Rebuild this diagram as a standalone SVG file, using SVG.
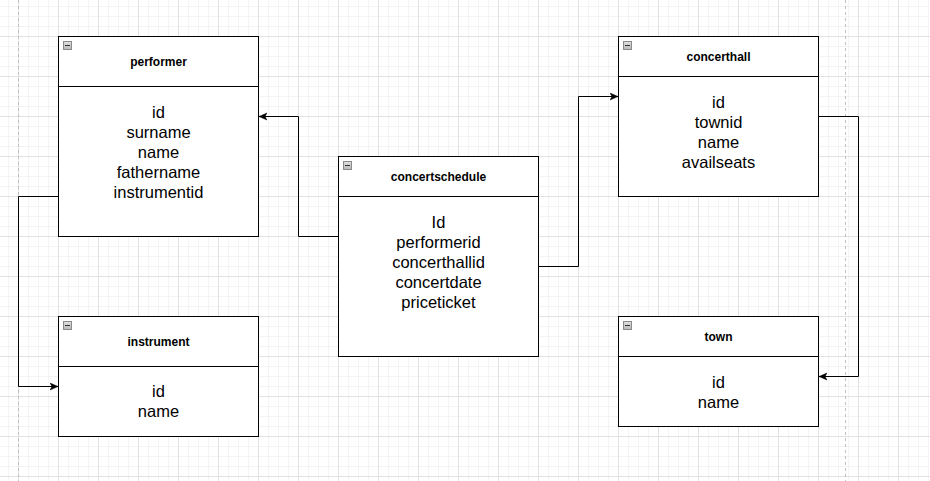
<svg xmlns="http://www.w3.org/2000/svg" width="930" height="481" viewBox="0 0 930 481">
<style>
.box{fill:#ffffff;stroke:#000000;stroke-width:1}
.sep{stroke:#000000;stroke-width:1;fill:none}
.title{font-family:"Liberation Sans",Arial,sans-serif;font-size:12px;font-weight:bold;fill:#000000;text-anchor:middle}
.body{font-family:"Liberation Sans",Arial,sans-serif;font-size:16.5px;fill:#000000;text-anchor:middle}
.conn{fill:none;stroke:#000000;stroke-width:1}
.page{stroke:#c0c0c0;stroke-width:1;stroke-dasharray:3,3;fill:none}
.icon{fill:url(#ig);stroke:#8a8a8a;stroke-width:1}
</style>
<defs>
<pattern id="minor" x="8" y="6" width="10" height="10" patternUnits="userSpaceOnUse">
<path d="M0.5,0 V10 M0,0.5 H10" stroke="#f4f4f4" stroke-width="1" fill="none"/>
</pattern>
<pattern id="major" x="18" y="36" width="40" height="40" patternUnits="userSpaceOnUse">
<path d="M0.5,0 V40 M0,0.5 H40" stroke="#e2e2e2" stroke-width="1" fill="none"/>
</pattern>
<linearGradient id="ig" x1="0" y1="0" x2="0" y2="1">
<stop offset="0" stop-color="#e0e0e0"/>
<stop offset="1" stop-color="#b8b8b8"/>
</linearGradient>
<marker id="arr" viewBox="0 0 10 10" refX="8" refY="4" markerWidth="10" markerHeight="10" markerUnits="userSpaceOnUse" orient="auto">
<path d="M0,0.5 L8,4 L0,7.5 L2,4 Z" fill="#000000" stroke="#000000" stroke-width="0.5"/>
</marker>
<g id="minus">
<rect class="icon" x="0.5" y="0.5" width="8" height="8"/>
<path d="M2,4.5 H7" stroke="#333333" stroke-width="1"/>
</g>
</defs>
<rect width="930" height="481" fill="#ffffff"/>
<rect width="930" height="481" fill="url(#minor)"/>
<rect width="930" height="481" fill="url(#major)"/>
<path class="page" d="M18.5,0 V481 M845.5,0 V481"/>

<g id="connectors">
<path class="conn" d="M338.5,236.5 H298.5 V116.5 H259" marker-end="url(#arr)"/>
<path class="conn" d="M538.5,266.5 H578.5 V96.5 H618" marker-end="url(#arr)"/>
<path class="conn" d="M58.5,196.5 H18.5 V386.5 H58" marker-end="url(#arr)"/>
<path class="conn" d="M818.5,116.5 H858.5 V376.5 H819" marker-end="url(#arr)"/>
</g>

<g id="performer">
<rect class="box" x="58.5" y="36.5" width="200" height="200"/>
<path class="sep" d="M58.5,86.5 H258.5"/>
<use href="#minus" x="63" y="41"/>
<text class="title" x="158.5" y="65.5">performer</text>
<text class="body" x="158.5" y="118">id</text>
<text class="body" x="158.5" y="138">surname</text>
<text class="body" x="158.5" y="158">name</text>
<text class="body" x="158.5" y="178">fathername</text>
<text class="body" x="158.5" y="198">instrumentid</text>
</g>

<g id="instrument">
<rect class="box" x="58.5" y="316.5" width="200" height="120"/>
<path class="sep" d="M58.5,366.5 H258.5"/>
<use href="#minus" x="63" y="321"/>
<text class="title" x="158.5" y="345.5">instrument</text>
<text class="body" x="158.5" y="397">id</text>
<text class="body" x="158.5" y="417">name</text>
</g>

<g id="concertschedule">
<rect class="box" x="338.5" y="156.5" width="200" height="200"/>
<path class="sep" d="M338.5,196.5 H538.5"/>
<use href="#minus" x="343" y="161"/>
<text class="title" x="438.5" y="180.5">concertschedule</text>
<text class="body" x="438.5" y="228">Id</text>
<text class="body" x="438.5" y="248">performerid</text>
<text class="body" x="438.5" y="268">concerthallid</text>
<text class="body" x="438.5" y="288">concertdate</text>
<text class="body" x="438.5" y="308">priceticket</text>
</g>

<g id="concerthall">
<rect class="box" x="618.5" y="36.5" width="200" height="160"/>
<path class="sep" d="M618.5,76.5 H818.5"/>
<use href="#minus" x="623" y="41"/>
<text class="title" x="718.5" y="60.5">concerthall</text>
<text class="body" x="718.5" y="108">id</text>
<text class="body" x="718.5" y="128">townid</text>
<text class="body" x="718.5" y="148">name</text>
<text class="body" x="718.5" y="168">availseats</text>
</g>

<g id="town">
<rect class="box" x="618.5" y="316.5" width="200" height="110"/>
<path class="sep" d="M618.5,356.5 H818.5"/>
<use href="#minus" x="623" y="321"/>
<text class="title" x="718.5" y="340.5">town</text>
<text class="body" x="718.5" y="388">id</text>
<text class="body" x="718.5" y="408">name</text>
</g>
</svg>
